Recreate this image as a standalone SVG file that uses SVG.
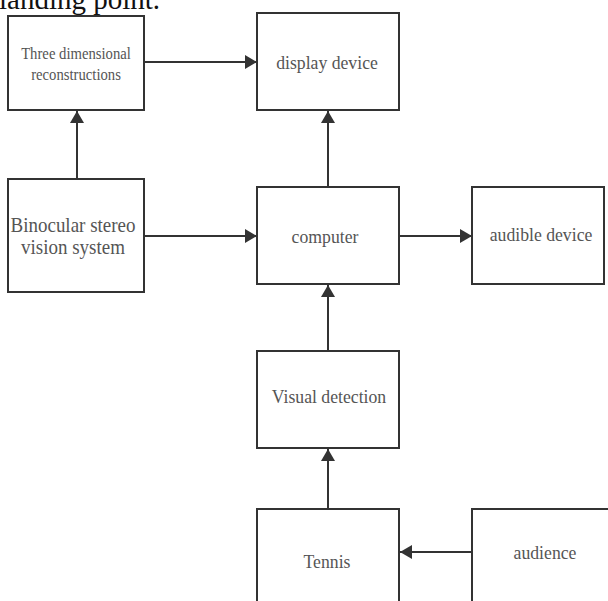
<svg xmlns="http://www.w3.org/2000/svg" width="608" height="601" viewBox="0 0 608 601">
<style>
.box{fill:#fff;stroke:#333;stroke-width:2}
.lbl{font-family:"Liberation Serif","Times New Roman",serif;fill:#555;text-anchor:middle}
.con{stroke:#333;stroke-width:2;fill:none;marker-end:url(#ah)}
</style>
<defs>
<marker id="ah" markerUnits="userSpaceOnUse" markerWidth="12" markerHeight="14" refX="12" refY="7" orient="auto">
<path d="M0,0 L12,7 L0,14 z" fill="#333"/>
</marker>
</defs>
<rect width="608" height="601" fill="#fff"/>
<text x="-1" y="9" font-family="Liberation Serif, serif" font-size="29" fill="#111">landing point.</text>
<g id="connectors">
<line class="con" x1="144" y1="62" x2="257" y2="62"/>
<line class="con" x1="77" y1="179" x2="77" y2="111"/>
<line class="con" x1="144" y1="236" x2="257" y2="236"/>
<line class="con" x1="328" y1="187" x2="328" y2="111"/>
<line class="con" x1="399" y1="236" x2="472" y2="236"/>
<line class="con" x1="328" y1="351" x2="328" y2="285"/>
<line class="con" x1="328" y1="509" x2="328" y2="449"/>
<line class="con" x1="472" y1="552" x2="400" y2="552"/>
</g>
<g id="three">
<rect class="box" x="8" y="16" width="136" height="94"/>
<text class="lbl" font-size="14.7" transform="translate(76,59) scale(1,1.12)">Three dimensional</text>
<text class="lbl" font-size="14.7" transform="translate(76,80) scale(1,1.12)">reconstructions</text>
</g>
<g id="display">
<rect class="box" x="257" y="13" width="142" height="97"/>
<text class="lbl" font-size="17.7" transform="translate(327,69) scale(1,1.12)">display device</text>
</g>
<g id="binocular">
<rect class="box" x="8" y="179" width="136" height="113"/>
<text class="lbl" font-size="19" transform="translate(73,232) scale(1,1.12)">Binocular stereo</text>
<text class="lbl" font-size="19" transform="translate(73,254) scale(1,1.12)">vision system</text>
</g>
<g id="computer">
<rect class="box" x="257" y="187" width="142" height="97"/>
<text class="lbl" font-size="17.7" transform="translate(325,243) scale(1,1.12)">computer</text>
</g>
<g id="audible">
<rect class="box" x="472" y="187" width="132" height="97"/>
<text class="lbl" font-size="17.7" transform="translate(541,241) scale(1,1.12)">audible device</text>
</g>
<g id="visual">
<rect class="box" x="257" y="351" width="142" height="97"/>
<text class="lbl" font-size="17.7" transform="translate(329,403) scale(1,1.12)">Visual detection</text>
</g>
<g id="tennis">
<rect class="box" x="257" y="509" width="142" height="100"/>
<text class="lbl" font-size="17.7" transform="translate(327,568) scale(1,1.12)">Tennis</text>
</g>
<g id="audience">
<rect class="box" x="472" y="509" width="140" height="100"/>
<text class="lbl" font-size="17.7" transform="translate(545,559) scale(1,1.12)">audience</text>
</g>
</svg>
